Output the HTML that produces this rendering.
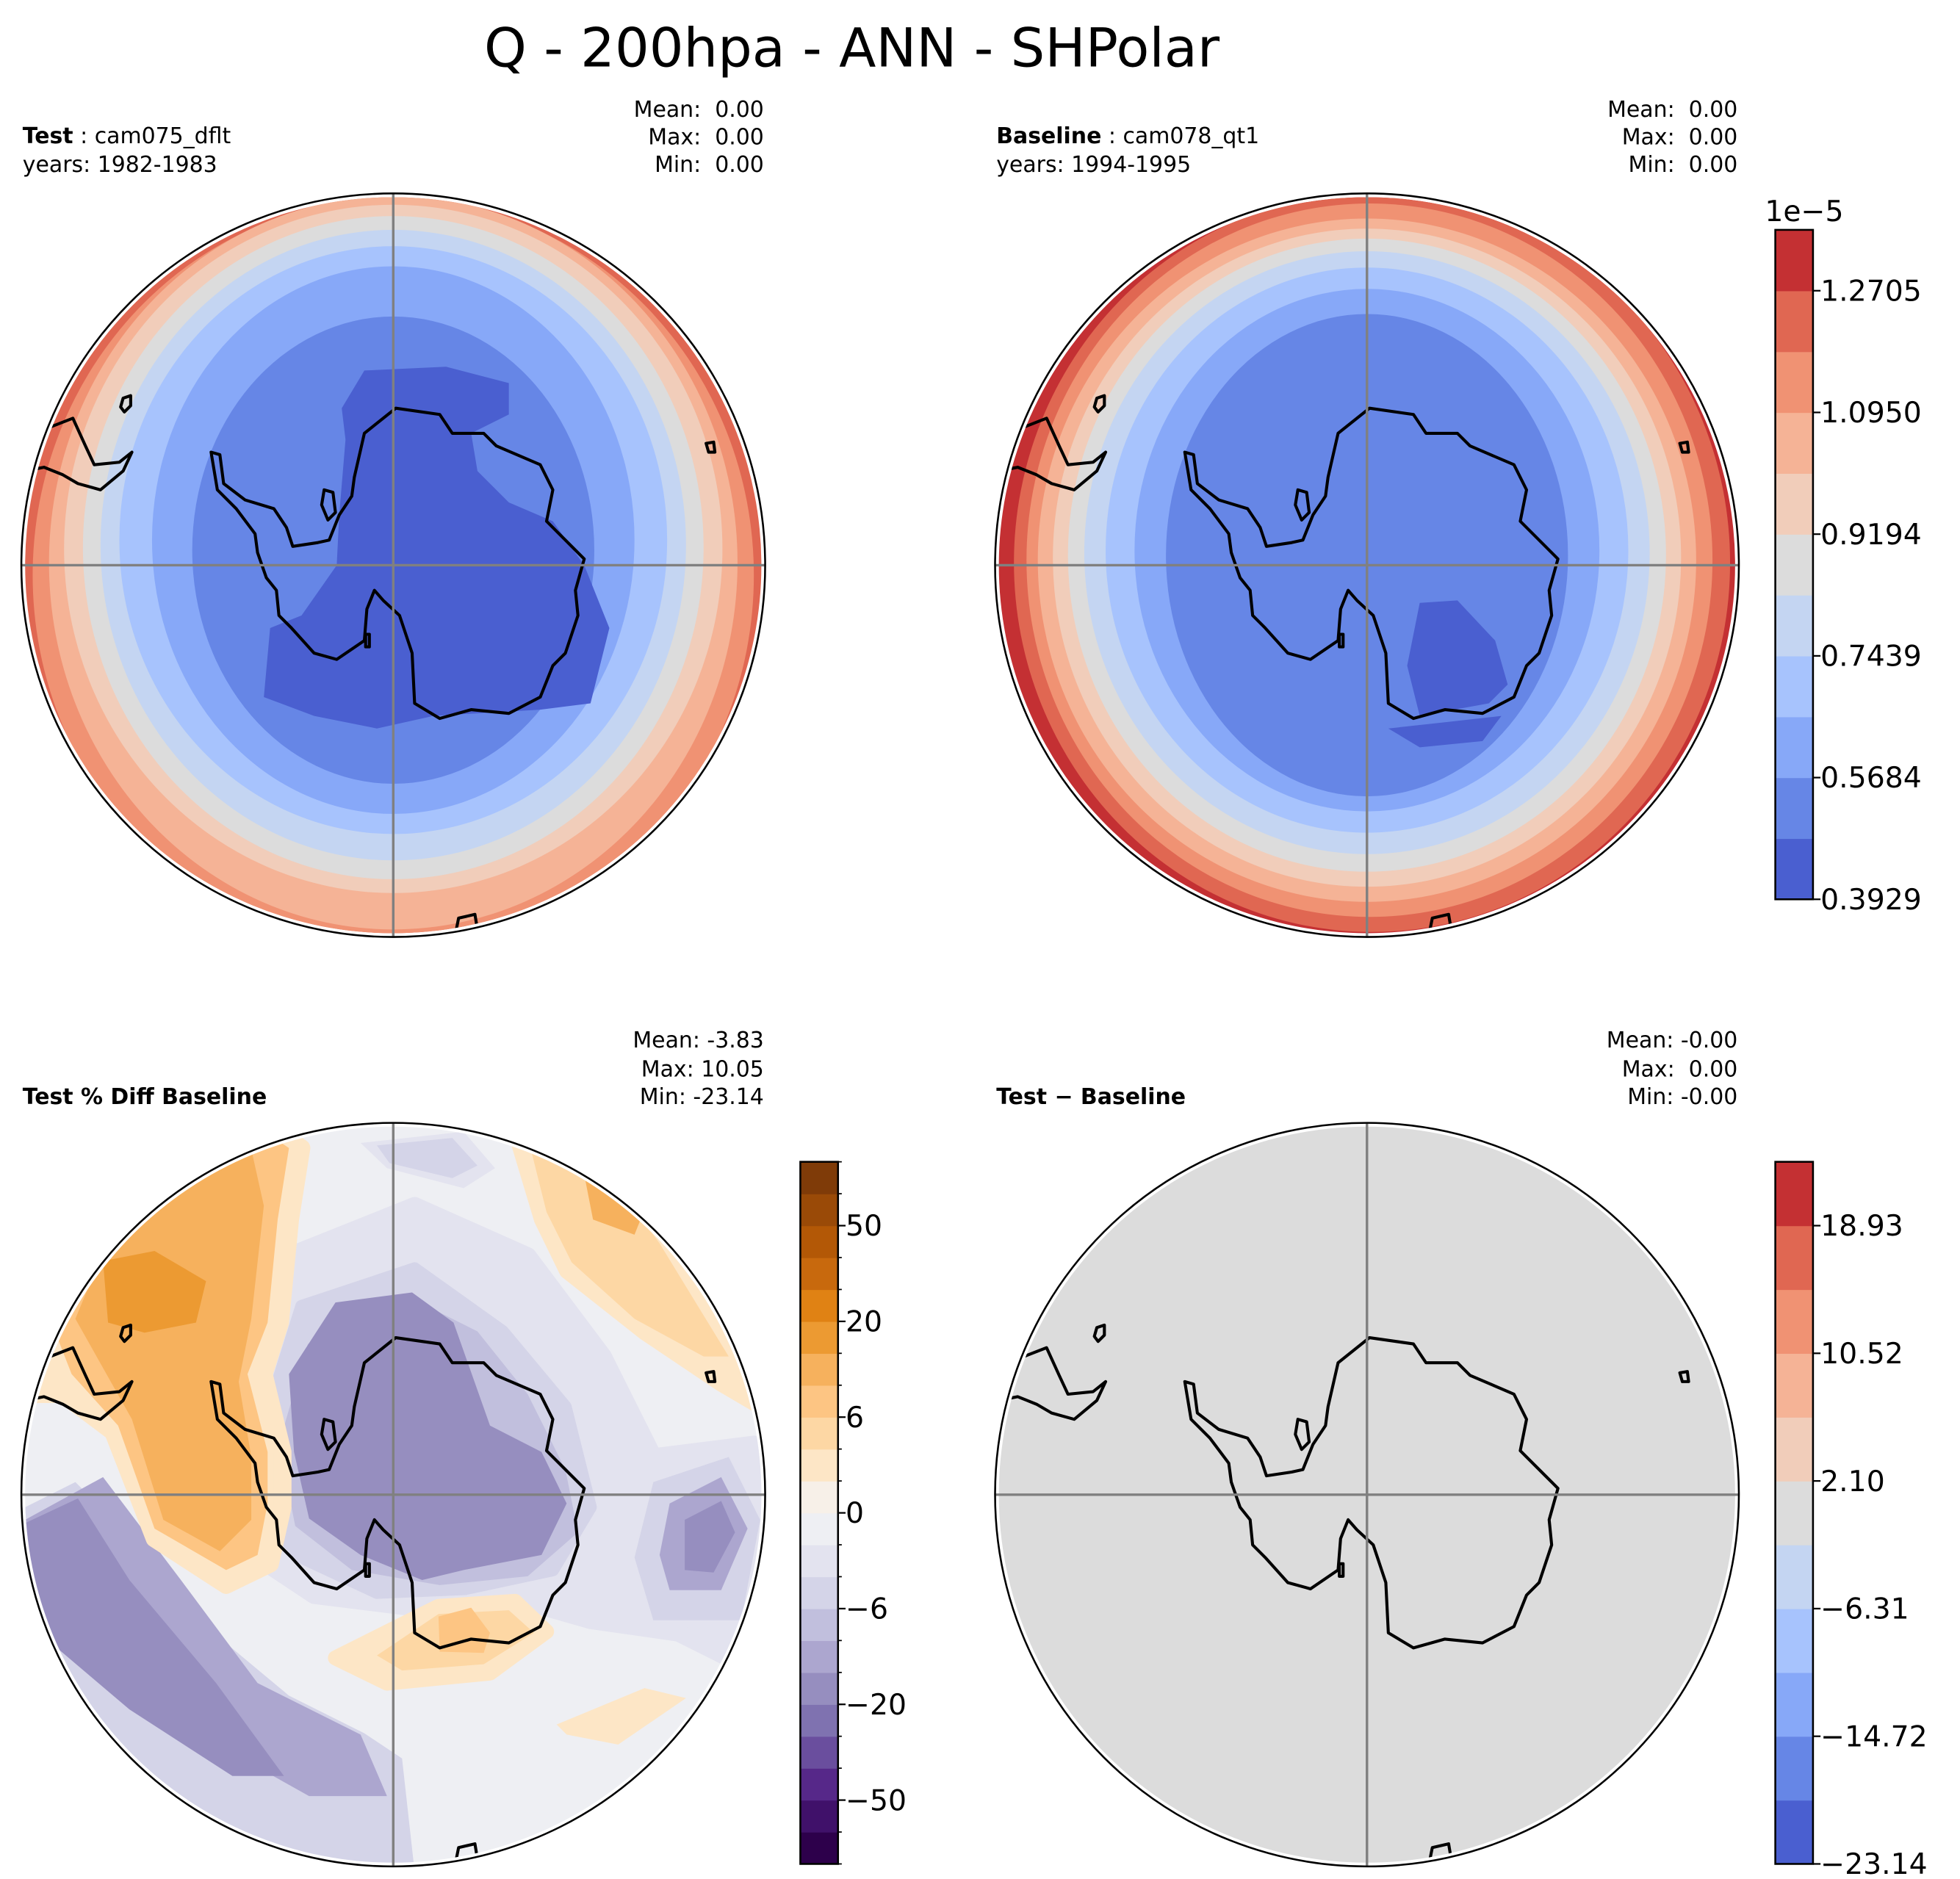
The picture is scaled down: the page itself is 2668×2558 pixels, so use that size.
<!DOCTYPE html>
<html><head><meta charset="utf-8"><style>
html,body{margin:0;padding:0;background:#fff}
svg{display:block}
text{font-family:"DejaVu Sans","Liberation Sans",sans-serif;fill:#000;white-space:pre}
</style></head><body>
<svg id="fig" xmlns="http://www.w3.org/2000/svg" width="2668" height="2558" viewBox="0 0 1560 1496" preserveAspectRatio="none" xml:space="preserve">
<defs>
<clipPath id="clipA"><circle cx="313" cy="450" r="293"/></clipPath>
<clipPath id="clipB"><circle cx="1088" cy="450" r="293"/></clipPath>
<clipPath id="clipC"><circle cx="313" cy="1190" r="293"/></clipPath>
<clipPath id="clipD"><circle cx="1088" cy="1190" r="293"/></clipPath>
<g id="coast" fill="none" stroke="#000" stroke-width="2.4" stroke-linejoin="round">
<polygon points="2,-125 37,-120 47,-105 72,-105 82,-95 117,-80 127,-60 122,-35 142,-15 152,-5 145,20 147,40 137,70 127,80 117,105 92,118 62,115 37,122 17,110 15,70 5,40 -8,28 -15,20 -21,35 -23,60 -45,75 -63,70 -81,50 -91,40 -93,20 -101,10 -108,-10 -110,-25 -125,-45 -140,-60 -145,-90 -138,-88 -135,-65 -118,-52 -95,-45 -85,-30 -80,-15 -60,-18 -51,-20 -43,-40 -33,-55 -31,-70 -23,-105"/>
<polygon points="-55,-60 -48,-58 -46,-42 -52,-36 -57,-48"/>
<polygon points="-22,55 -19,55 -19,65 -22,65"/>
<polyline points="-273,-110 -255,-117 -245,-95 -238,-80 -218,-82 -208,-90 -215,-75 -233,-60 -251,-65 -263,-72 -278,-78 -293,-75"/>
<polygon points="-215,-133 -209,-135 -209,-127 -214,-122 -217,-126"/>
<polygon points="249,-97 255,-98 256,-90 251,-90"/>
<polyline points="49,296 52,281 65,278 67,290"/>
</g>
</defs>

<text x="678" y="53" font-size="43" text-anchor="middle">Q - 200hpa - ANN - SHPolar</text>

<g>
<text x="18" y="114" font-size="17.5"><tspan font-weight="bold">Test</tspan> : cam075_dflt</text>
<text x="18" y="137" font-size="17.5">years: 1982-1983</text>
<text x="608" y="93" font-size="17.5" text-anchor="end">Mean:  0.00</text>
<text x="608" y="115" font-size="17.5" text-anchor="end">Max:  0.00</text>
<text x="608" y="137" font-size="17.5" text-anchor="end">Min:  0.00</text>
<g clip-path="url(#clipA)">
<circle cx="313" cy="450" r="295" fill="#e06752"/>
<ellipse cx="313" cy="458" rx="287" ry="300" fill="#f09273"/>
<ellipse cx="313" cy="448" rx="274" ry="292" fill="#f5b396"/>
<ellipse cx="313" cy="437" rx="262" ry="274" fill="#f1cdba"/>
<ellipse cx="313" cy="436" rx="247" ry="264" fill="#dcdcdc"/>
<ellipse cx="313" cy="434" rx="233" ry="251" fill="#c4d5f2"/>
<ellipse cx="313" cy="430" rx="218" ry="234" fill="#a7c3fd"/>
<ellipse cx="313" cy="430" rx="192" ry="218" fill="#87a8f8"/>
<ellipse cx="313" cy="438" rx="160" ry="186" fill="#6686e6"/>
<polygon fill="#4a5fd0" points="290,295 355,292 405,305 405,330 375,345 380,375 405,400 440,415 465,450 485,500 470,560 430,565 345,570 300,580 250,570 210,555 215,500 240,490 268,450 270,410 275,350 272,325"/>
</g>
</g>

<g>
<text x="793" y="114" font-size="17.5"><tspan font-weight="bold">Baseline</tspan> : cam078_qt1</text>
<text x="793" y="137" font-size="17.5">years: 1994-1995</text>
<text x="1383" y="93" font-size="17.5" text-anchor="end">Mean:  0.00</text>
<text x="1383" y="115" font-size="17.5" text-anchor="end">Max:  0.00</text>
<text x="1383" y="137" font-size="17.5" text-anchor="end">Min:  0.00</text>
<g clip-path="url(#clipB)">
<circle cx="1088" cy="450" r="295" fill="#c43033"/>
<ellipse cx="1092" cy="448" rx="285" ry="294" fill="#e06752"/>
<ellipse cx="1090" cy="446" rx="273" ry="284" fill="#f09273"/>
<ellipse cx="1088" cy="446" rx="262" ry="272" fill="#f5b396"/>
<ellipse cx="1088" cy="444" rx="250" ry="262" fill="#f1cdba"/>
<ellipse cx="1088" cy="442" rx="238" ry="252" fill="#dcdcdc"/>
<ellipse cx="1088" cy="440" rx="225" ry="240" fill="#c4d5f2"/>
<ellipse cx="1088" cy="438" rx="208" ry="225" fill="#a7c3fd"/>
<ellipse cx="1088" cy="438" rx="185" ry="208" fill="#87a8f8"/>
<ellipse cx="1088" cy="442" rx="160" ry="192" fill="#6686e6"/>
<polygon fill="#4a5fd0" points="1130,480 1160,478 1190,510 1200,545 1185,560 1130,570 1120,530"/>
<polygon fill="#4a5fd0" points="1105,580 1150,575 1195,570 1180,590 1130,595"/>
</g>
</g>

<g>
<text x="18" y="879" font-size="17.5" font-weight="bold">Test % Diff Baseline</text>
<text x="608" y="834" font-size="17.5" text-anchor="end">Mean: -3.83</text>
<text x="608" y="857" font-size="17.5" text-anchor="end">Max: 10.05</text>
<text x="608" y="879" font-size="17.5" text-anchor="end">Min: -23.14</text>
<g clip-path="url(#clipC)" stroke-linejoin="round">
<circle cx="313" cy="1190" r="295" fill="#eeeff3"/>
<polygon fill="#e3e3ef" stroke="#e3e3ef" stroke-width="14" points="230,1000 330,960 420,1000 480,1080 520,1160 600,1150 600,1330 540,1300 470,1290 400,1270 330,1280 250,1270 190,1230 140,1190 200,1130"/>
<polygon fill="#d4d4e8" stroke="#d4d4e8" stroke-width="10" points="240,1040 330,1010 400,1060 450,1120 470,1200 440,1250 370,1265 300,1268 240,1240 205,1200 215,1120"/>
<polygon fill="#e3e3ef" points="287,910 369,901 394,930 369,946 308,930"/>
<polygon fill="#d4d4e8" points="300,912 360,906 380,928 360,938 310,926"/>
<polygon fill="#c1bfdd" points="245,1070 320,1030 380,1060 420,1110 450,1170 460,1220 420,1255 350,1262 280,1250 235,1215 222,1150"/>
<polygon fill="#968ebf" points="230,1094 267,1037 328,1029 361,1053 390,1135 431,1156 451,1197 431,1238 369,1250 336,1258 287,1238 246,1209 234,1156"/>
<polygon fill="#d4d4e8" points="20,1200 60,1180 110,1230 170,1300 230,1350 290,1380 320,1400 330,1490 0,1490 0,1200"/>
<polygon fill="#aca6cf" points="20,1210 82,1176 144,1258 205,1340 287,1381 308,1430 246,1430 123,1361 41,1279"/>
<polygon fill="#968ebf" points="15,1215 62,1193 103,1258 172,1340 226,1414 185,1414 103,1361 30,1299"/>
<polygon fill="#d4d4e8" points="520,1180 580,1160 605,1210 590,1290 520,1290 505,1240"/>
<polygon fill="#aca6cf" points="533,1197 574,1176 595,1217 574,1266 533,1266 525,1238"/>
<polygon fill="#968ebf" points="545,1210 574,1195 585,1220 568,1252 545,1250"/>
<polygon fill="#fde6c6" stroke="#fde6c6" stroke-width="14" points="20,1060 82,940 156,900 205,890 240,914 231,971 223,1053 210,1094 225,1156 225,1200 215,1245 180,1262 123,1225 90,1140 50,1110 20,1110"/>
<polygon fill="#fdc583" points="41,1053 82,951 156,910 205,897 230,914 221,971 213,1053 197,1094 213,1156 213,1197 205,1238 180,1250 123,1217 94,1135 57,1094"/>
<polygon fill="#f6b15d" points="60,1050 95,965 160,925 200,915 210,960 200,1050 190,1100 200,1160 200,1210 175,1235 130,1210 105,1130"/>
<polygon fill="#ec9a32" points="82,1004 123,996 164,1020 156,1053 115,1061 86,1053"/>
<polygon fill="#fde6c6" stroke="#fde6c6" stroke-width="12" points="410,901 472,910 533,992 595,1094 603,1119 574,1102 513,1061 451,1012 431,971"/>
<polygon fill="#fdd7a4" points="420,905 470,915 525,990 580,1080 560,1080 505,1050 455,1005 435,965"/>
<polygon fill="#f6b15d" points="464,930 513,963 505,983 472,971"/>
<polygon fill="#fde6c6" stroke="#fde6c6" stroke-width="12" points="267,1320 349,1279 410,1275 435,1299 390,1332 308,1340"/>
<polygon fill="#fdd7a4" points="300,1318 349,1285 405,1282 425,1300 385,1325 320,1330"/>
<polygon fill="#fdc583" points="349,1287 375,1280 390,1300 385,1316 350,1315"/>
<polygon fill="#fde6c6" points="443,1373 513,1344 546,1352 492,1389 451,1381"/>
</g>
</g>

<g>
<text x="793" y="879" font-size="17.5" font-weight="bold">Test − Baseline</text>
<text x="1383" y="834" font-size="17.5" text-anchor="end">Mean: -0.00</text>
<text x="1383" y="857" font-size="17.5" text-anchor="end">Max:  0.00</text>
<text x="1383" y="879" font-size="17.5" text-anchor="end">Min: -0.00</text>
<g clip-path="url(#clipD)">
<circle cx="1088" cy="1190" r="295" fill="#dcdcdc"/>
</g>
</g>

<g id="overlays"></g>
<g id="colorbars"></g>
</svg>
<script>
const fieldColors = ["#4a5fd0","#6686e6","#87a8f8","#a7c3fd","#c4d5f2","#dcdcdc","#f1cdba","#f5b396","#f09273","#e06752","#c43033"];
const fieldTickLabels = ["0.3929","0.5684","0.7439","0.9194","1.0950","1.2705"];
const fieldTickBands = [0,2,4,6,8,10];
const pctColors = ["#2d004b","#40116a","#562889","#6a4e9e","#7f72b0","#968ebf","#aca6cf","#c1bfdd","#d4d4e8","#e3e3ef","#eeeff3","#f7f0e8","#fde6c6","#fdd7a4","#fdc583","#f6b15d","#ec9a32","#e08214","#c8690d","#b35806","#9a4a07","#7f3b08"];
const pctTickLabels = ["\u221250","\u221220","\u22126","0","6","20","50"];
const pctTickBands = [2,5,8,11,14,17,20];
const diffColors = ["#4a5fd0","#6686e6","#87a8f8","#a7c3fd","#c4d5f2","#dcdcdc","#f1cdba","#f5b396","#f09273","#e06752","#c43033"];
const diffTickLabels = ["\u221223.14","\u221214.72","\u22126.31","2.10","10.52","18.93"];
const diffTickBands = [0,2,4,6,8,10];

const NS = "http://www.w3.org/2000/svg";
function mk(tag, attrs, parent){ const e=document.createElementNS(NS,tag); for(const k in attrs) e.setAttribute(k,attrs[k]); parent.appendChild(e); return e; }

function drawColorbar(prefix, x, top, bottom, colors, labels, bands, minor){
  const root = document.getElementById('colorbars');
  const g = mk('g',{},root);
  
  
  const n = colors.length, h = (bottom-top)/n, w = 30;
  const yOf = b => bottom - b*h;
  colors.forEach((c,i)=>{
    const r = mk('rect',{x:x,y:yOf(i+1),width:w,height:h+0.4,fill:c},g);
    
    
  });
  mk('rect',{x:x,y:top,width:w,height:bottom-top,fill:'none',stroke:'#000','stroke-width':1.5},g);
  if(minor){ for(let b=0;b<=n;b++){ mk('line',{x1:x+w,x2:x+w+3,y1:yOf(b),y2:yOf(b),stroke:'#000','stroke-width':1},g);} }
  labels.forEach((l,i)=>{
    const y = yOf(bands[i]);
    mk('line',{x1:x+w,x2:x+w+6,y1:y,y2:y,stroke:'#000','stroke-width':1.3},g);
    const t = mk('text',{x:x+w+6,y:y+8,'font-size':23},g);
    t.textContent = l;
    
    
  });
  return g;
}
drawColorbar('field', 1413, 183, 716, fieldColors, fieldTickLabels, fieldTickBands, false);
drawColorbar('pct-diff', 637, 925, 1484, pctColors, pctTickLabels, pctTickBands, true);
drawColorbar('abs-diff', 1413, 925, 1484, diffColors, diffTickLabels, diffTickBands, false);
const sci = mk('text',{x:1436,y:176,'font-size':23,'text-anchor':'middle'},document.getElementById('colorbars'));
sci.textContent = "1e\u22125";



const centers = [[313,450],[1088,450],[313,1190],[1088,1190]];
const ov = document.getElementById('overlays');
centers.forEach((c,i)=>{
  const g = mk('g',{'clip-path':'url(#clip'+"ABCD"[i]+')'},ov);
  
  
  const u = mk('use',{href:'#coast',transform:'translate('+c[0]+','+c[1]+')'},g);
  
  
  const gl1 = mk('line',{x1:c[0],x2:c[0],y1:c[1]-296,y2:c[1]+296,stroke:'#808080','stroke-width':2},ov);
  
  
  const gl2 = mk('line',{x1:c[0]-296,x2:c[0]+296,y1:c[1],y2:c[1],stroke:'#808080','stroke-width':2},ov);
  
  
  const o = mk('circle',{cx:c[0],cy:c[1],r:296,fill:'none',stroke:'#000','stroke-width':1.5},ov);
  
  
});
</script>
</body></html>
